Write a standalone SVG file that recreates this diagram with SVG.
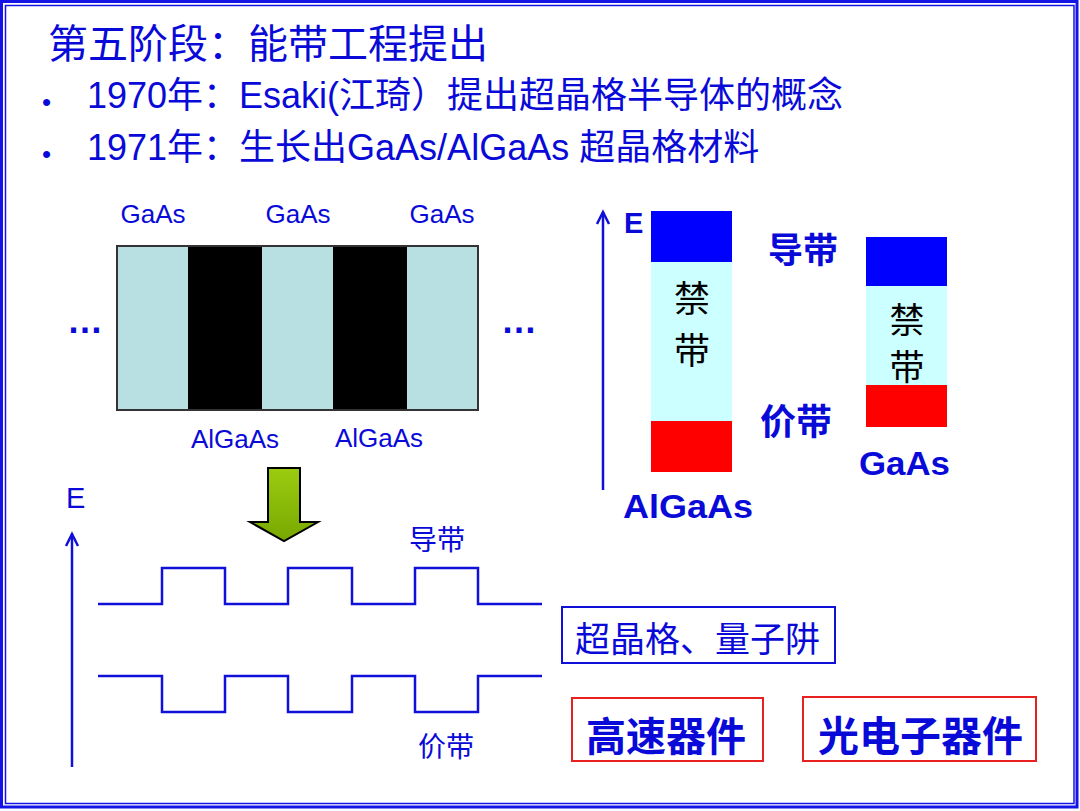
<svg xmlns="http://www.w3.org/2000/svg" width="1080" height="811" viewBox="0 0 1080 811">
<defs>
<style>
.t{font-family:"Liberation Sans","Noto Sans CJK SC",sans-serif;fill:#0a0ad8}
.b{font-weight:bold}
.k{font-family:"Noto Sans CJK SC",sans-serif;fill:#000}
.wave{fill:none;stroke:#1010d8;stroke-width:2.5}
.ax{fill:none;stroke:#1010d8;stroke-width:2.5}
</style>
<linearGradient id="g" x1="0" y1="0" x2="0" y2="1">
<stop offset="0" stop-color="#9ccc10"/>
<stop offset="1" stop-color="#78a800"/>
</linearGradient>
</defs>
<rect width="1080" height="811" fill="#fff"/>
<g id="frame">
<rect x="1.5" y="1.5" width="1075.5" height="805.5" fill="none" stroke="#1414e6" stroke-width="3"/>
<rect x="5.5" y="5.5" width="1068.5" height="798" fill="none" stroke="#1414e6" stroke-width="1.5"/>
</g>
<g id="title">
<text class="t" x="48" y="58" font-size="40">第五阶段：能带工程提出</text>
</g>
<g id="bullets">
<text class="t" x="42" y="111" font-size="26">•</text>
<text class="t" x="87" y="108" font-size="36">1970年：Esaki(江琦）提出超晶格半导体的概念</text>
<text class="t" x="42" y="163" font-size="26">•</text>
<text class="t" x="87" y="160" font-size="36">1971年：生长出GaAs/AlGaAs 超晶格材料</text>
</g>
<g id="superlattice">
<rect x="117" y="246" width="361" height="164" fill="#b8dfe2" stroke="#333" stroke-width="2"/>
<rect x="188" y="247" width="74" height="162" fill="#000"/>
<rect x="333" y="247" width="74" height="162" fill="#000"/>
<text class="t" x="153" y="223" font-size="26" text-anchor="middle">GaAs</text>
<text class="t" x="298" y="223" font-size="26" text-anchor="middle">GaAs</text>
<text class="t" x="442" y="223" font-size="26" text-anchor="middle">GaAs</text>
<text class="t" x="235" y="448" font-size="26" text-anchor="middle">AlGaAs</text>
<text class="t" x="379" y="447" font-size="26" text-anchor="middle">AlGaAs</text>
<text class="t b" x="67" y="333" font-size="36">…</text>
<text class="t b" x="501" y="333" font-size="36">…</text>
</g>
<g id="green-arrow">
<path d="M268,468 H300 V522 H318 L284,541 L250,522 H268 Z" fill="url(#g)" stroke="#000" stroke-width="2"/>
</g>
<g id="band-diagram-right">
<rect x="651" y="211" width="81" height="51" fill="#0000ff"/>
<rect x="651" y="262" width="81" height="159" fill="#ccffff"/>
<rect x="651" y="421" width="81" height="51" fill="#ff0000"/>
<text class="k" x="692" y="312" font-size="36" text-anchor="middle">禁</text>
<text class="k" x="692" y="364" font-size="36" text-anchor="middle">带</text>
<rect x="866" y="237" width="81" height="49" fill="#0000ff"/>
<rect x="866" y="286" width="81" height="99" fill="#ccffff"/>
<rect x="866" y="385" width="81" height="42" fill="#ff0000"/>
<text class="k" x="907" y="333" font-size="35" text-anchor="middle">禁</text>
<text class="k" x="907" y="380" font-size="35" text-anchor="middle">带</text>
<text class="t b" x="624" y="233" font-size="29">E</text>
<text class="t b" x="768" y="263" font-size="35">导带</text>
<text class="t b" x="760" y="435" font-size="36">价带</text>
<text class="t b" x="859" y="475" font-size="33" textLength="91" lengthAdjust="spacingAndGlyphs">GaAs</text>
<text class="t b" x="623" y="518" font-size="33" textLength="130" lengthAdjust="spacingAndGlyphs">AlGaAs</text>
</g>
<g id="bottom-labels">
<text class="t" x="66" y="508" font-size="29">E</text>
<text class="t" x="409" y="550" font-size="28">导带</text>
<text class="t" x="418" y="757" font-size="28">价带</text>
</g>
<g id="connectors">
<path class="ax" d="M603,490 V212"/>
<path class="ax" d="M597,224 L603,212 L609,224"/>
<path class="ax" d="M72,767 V534"/>
<path class="ax" d="M66,546 L72,534 L78,546"/>
<path class="wave" d="M98,604 H162 V568 H225 V604 H288 V568 H352 V604 H415 V568 H478 V604 H542"/>
<path class="wave" d="M98,676 H162 V712 H225 V676 H288 V712 H352 V676 H415 V712 H478 V676 H542"/>
</g>
<g id="box-sl">
<rect x="562" y="607" width="273" height="56" fill="#fff" stroke="#1010d8" stroke-width="2"/>
<text class="t" x="575" y="652" font-size="35">超晶格、量子阱</text>
</g>
<g id="box-hs">
<rect x="572" y="698" width="191" height="63" fill="#fff" stroke="#e82020" stroke-width="2"/>
<text class="t b" x="586" y="751" font-size="40">高速器件</text>
</g>
<g id="box-oe">
<rect x="803" y="697" width="233" height="64" fill="#fff" stroke="#e82020" stroke-width="2"/>
<text class="t b" x="818" y="751" font-size="41">光电子器件</text>
</g>
</svg>
